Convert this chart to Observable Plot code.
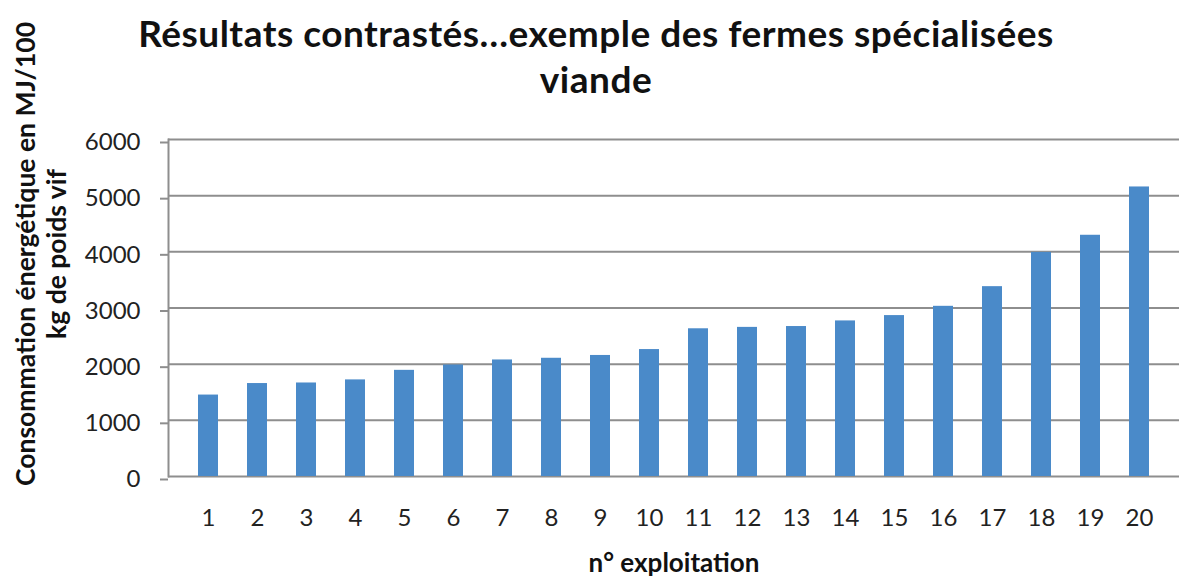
<!DOCTYPE html>
<html>
<head>
<meta charset="utf-8">
<script src="https://cdn.jsdelivr.net/npm/d3@7"></script>
<script src="https://cdn.jsdelivr.net/npm/@observablehq/plot@0.6"></script>
<style>
  body { margin: 0; background: #fff; font-family: Lato, "Open Sans", sans-serif; }
  #title { height: 112px; box-sizing: border-box; padding-top: 10px; text-align: center;
           font-weight: 700; font-size: 37px; letter-spacing: 0.5px; line-height: 46px; color: #111; overflow: visible; }
  #chart { line-height: 0; }
  svg { overflow: visible; display: block; }
</style>
</head>
<body>
<div id="title">Résultats contrastés…exemple des fermes spécialisées<br>viande</div>
<div id="chart"></div>
<script>
const exploitations = ["1","2","3","4","5","6","7","8","9","10","11","12","13","14","15","16","17","18","19","20"];
const consommation = [1450, 1655, 1665, 1720, 1890, 1985, 2075, 2105, 2155, 2260, 2630, 2655, 2670, 2770, 2865, 3030, 3380, 3990, 4295, 5155];
const yTicks = [0, 1000, 2000, 3000, 4000, 5000, 6000];
const yLabelLine1 = "Consommation énergétique en MJ/100";
const yLabelLine2 = "kg de poids vif";
const xLabel = "n° exploitation";

const data = exploitations.map((e, i) => ({e, v: consommation[i]}));

const chart = Plot.plot({
  width: 1192,
  height: 465,
  marginTop: 27,
  marginBottom: 101,
  marginLeft: 168,
  marginRight: 13,
  style: {fontFamily: "Lato, 'Open Sans', sans-serif", background: "transparent"},
  x: {domain: exploitations, padding: 0.6, label: null},
  y: {domain: [0, 6000], label: null},
  marks: [
    Plot.gridY(yTicks, {stroke: "#8e8e8e", strokeOpacity: 1, strokeWidth: 2}),
    Plot.barY(data, {x: "e", y: "v", fill: "#4a8ac9"}),
    Plot.frame({anchor: "left", stroke: "#8e8e8e", strokeWidth: 2}),
    Plot.axisY(yTicks, {tickSize: 8, tickPadding: 20, stroke: "#8e8e8e", strokeWidth: 2, fontSize: 24, fill: "#222", dy: 3, tickFormat: d => String(d)}),
    Plot.axisX({tickSize: 0, tickPadding: 32, fontSize: 24, fill: "#222"}),
    Plot.text([yLabelLine1], {frameAnchor: "left", rotate: -90, dx: -142, dy: -54, fontSize: 26.5, fontWeight: "bold", fill: "#111", textAnchor: "middle", lineAnchor: "middle"}),
    Plot.text([yLabelLine2], {frameAnchor: "left", rotate: -90, dx: -111, dy: -54, fontSize: 26.5, fontWeight: "bold", fill: "#111", textAnchor: "middle", lineAnchor: "middle"}),
    Plot.text([xLabel], {frameAnchor: "bottom", dy: 87, fontSize: 26, fontWeight: "bold", fill: "#111", lineAnchor: "middle"})
  ]
});
document.getElementById("chart").appendChild(chart);
</script>
</body>
</html>
